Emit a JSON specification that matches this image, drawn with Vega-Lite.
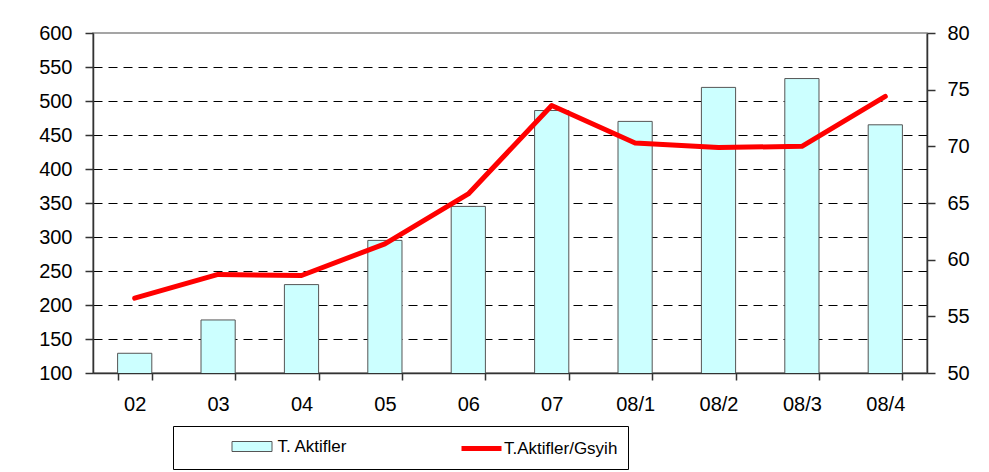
{
  "$schema": "https://vega.github.io/schema/vega-lite/v6.json",
  "width": 834,
  "height": 340,
  "autosize": {"type": "none"},
  "padding": {"left": 93, "top": 33, "right": 62, "bottom": 99},
  "background": "white",
  "config": {
    "font": "Liberation Sans",
    "view": {"stroke": "#888888", "strokeWidth": 1.5},
    "axis": {"labelFont": "Liberation Sans", "labelColor": "black", "domainColor": "#333333", "tickColor": "#333333", "domainWidth": 1.5, "tickWidth": 1.5}
  },
  "data": {
    "values": [
      {"period": "02", "aktifler": 129, "oran": 56.6},
      {"period": "03", "aktifler": 178, "oran": 58.7},
      {"period": "04", "aktifler": 230, "oran": 58.6},
      {"period": "05", "aktifler": 295, "oran": 61.4},
      {"period": "06", "aktifler": 345, "oran": 65.8},
      {"period": "07", "aktifler": 486, "oran": 73.6},
      {"period": "08/1", "aktifler": 470, "oran": 70.3},
      {"period": "08/2", "aktifler": 520, "oran": 69.9},
      {"period": "08/3", "aktifler": 533, "oran": 70.0},
      {"period": "08/4", "aktifler": 465, "oran": 74.4}
    ]
  },
  "encoding": {
    "x": {
      "field": "period",
      "type": "nominal",
      "sort": null,
      "scale": {"paddingInner": 0.59, "paddingOuter": 0.295},
      "axis": {
        "title": null,
        "labelAngle": 0,
        "labelFontSize": 20,
        "labelPadding": 14,
        "tickSize": 7,
        "tickBand": "extent",
        "grid": false
      }
    }
  },
  "layer": [
    {
      "transform": [{"calculate": "'T. Aktifler'", "as": "series"}],
      "mark": {"type": "bar", "stroke": "#555555", "strokeWidth": 1, "clip": true},
      "encoding": {
        "y": {
          "field": "aktifler",
          "type": "quantitative",
          "scale": {"domain": [100, 600], "nice": false, "zero": false},
          "axis": {
            "title": null,
            "values": [100, 150, 200, 250, 300, 350, 400, 450, 500, 550, 600],
            "labelFontSize": 20,
            "labelPadding": 13,
            "tickSize": 8,
            "grid": true,
            "gridColor": "black",
            "gridOpacity": {"condition": {"test": "datum.value === 600 || datum.value === 100", "value": 0}, "value": 1},
            "gridDash": [9, 6],
            "gridWidth": 1
          }
        },
        "fill": {
          "field": "series",
          "type": "nominal",
          "scale": {"range": ["#CCFFFF"]},
          "legend": {
            "title": null,
            "orient": "none",
            "legendX": 148.5,
            "legendY": 403,
            "padding": 0,
            "symbolType": "M-2,-0.5H2V0.5H-2Z",
            "symbolSize": 400,
            "symbolOffset": 0,
            "symbolStrokeColor": "#555555",
            "symbolStrokeWidth": 1,
            "labelOffset": 15,
            "labelFontSize": 17,
            "labelFont": "Liberation Sans",
            "labelColor": "black",
            "labelLimit": 300
          }
        }
      }
    },
    {
      "transform": [{"calculate": "'T.Aktifler/Gsyih'", "as": "series"}],
      "mark": {"type": "line", "strokeWidth": 5, "strokeJoin": "round", "strokeCap": "round"},
      "encoding": {
        "y": {
          "field": "oran",
          "type": "quantitative",
          "scale": {"domain": [50, 80], "nice": false, "zero": false},
          "axis": {
            "orient": "right",
            "title": null,
            "values": [50, 55, 60, 65, 70, 75, 80],
            "labelFontSize": 20,
            "labelPadding": 12,
            "tickSize": 8,
            "grid": false
          }
        },
        "stroke": {
          "field": "series",
          "type": "nominal",
          "scale": {"range": ["#FF0000"]},
          "legend": {
            "title": null,
            "orient": "none",
            "legendX": 80,
            "legendY": 393,
            "padding": 10,
            "strokeColor": "black",
            "symbolType": "M-2,0H2",
            "symbolSize": 400,
            "symbolOffset": 286,
            "symbolStrokeWidth": 5,
            "symbolFillColor": "transparent",
            "labelOffset": 10,
            "labelFontSize": 17,
            "labelFont": "Liberation Sans",
            "labelColor": "black",
            "labelLimit": 400,
            "labelExpr": "datum.label + '\u2003\u2003\u2003'"
          }
        }
      }
    }
  ],
  "resolve": {"scale": {"y": "independent"}}
}
